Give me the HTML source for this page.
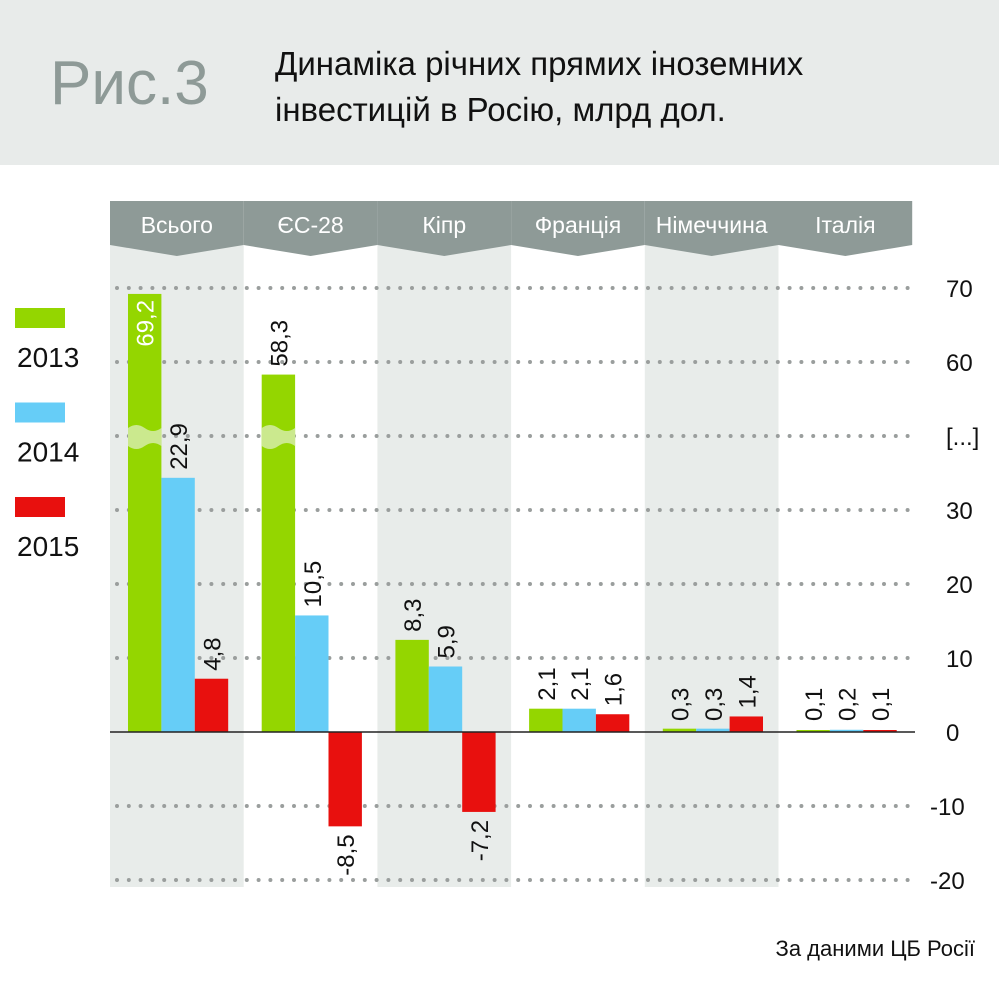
<!DOCTYPE html>
<html><head><meta charset="utf-8"><style>
html,body{margin:0;padding:0;background:#fff;}
svg{display:block;font-family:"Liberation Sans",sans-serif;}
</style></head><body>
<svg id="chart" width="999" height="999" viewBox="0 0 999 999">
<rect x="0" y="0" width="999" height="165" fill="#e8ebea"/>
<text x="50" y="104" font-size="62" fill="#8e9a97">Рис.3</text>
<text x="275" y="75" font-size="33" fill="#111">Динаміка річних прямих іноземних</text>
<text x="275" y="121" font-size="33" fill="#111">інвестицій в Росію, млрд дол.</text>
<g id="cols"></g>
<g id="grid"></g>
<g id="bars"></g>
<g id="legend"></g>
<text x="975" y="956" font-size="22" text-anchor="end" fill="#111">За даними ЦБ Росії</text>
</svg>
<script>
const categories = ["Всього","ЄС-28","Кіпр","Франція","Німеччина","Італія"];
const values2013 = [69.2, 58.3, 8.3, 2.1, 0.3, 0.1];
const values2014 = [22.9, 10.5, 5.9, 2.1, 0.3, 0.2];
const values2015 = [4.8, -8.5, -7.2, 1.6, 1.4, 0.1];
const labels2013 = ["69,2","58,3","8,3","2,1","0,3","0,1"];
const labels2014 = ["22,9","10,5","5,9","2,1","0,3","0,2"];
const labels2015 = ["4,8","-8,5","-7,2","1,6","1,4","0,1"];
const tickLabels = ["70","60","[...]","30","20","10","0","-10","-20"];
const tickPos = [70,60,40,30,20,10,0,-10,-20];
const years = ["2013","2014","2015"];

const NS="http://www.w3.org/2000/svg";
const Y0=732, TICK=7.4, BAR=11.1;
function yTick(v){ if(v>45) return 288 + (70-v)*TICK; return Y0 - v*TICK; }
function yBar(v){ if(v>40) return 288 + (70-v)*TICK; return Y0 - v*BAR; }
function colX(i){return 110 + i*133.7;}
function mk(tag,attrs,parent){const e=document.createElementNS(NS,tag);for(const k in attrs)e.setAttribute(k,attrs[k]);parent.appendChild(e);return e;}
const cols=document.getElementById('cols'),grid=document.getElementById('grid'),bars=document.getElementById('bars'),legend=document.getElementById('legend');
const colors=["#94d600","#66cdf7","#e8100e"];

categories.forEach((c,i)=>{
  const x=colX(i), w=133.7;
  if(i%2===0){const r=mk('rect',{x:x,y:245,width:w,height:642,fill:'#e8ecea'},cols);
    
    }
  const p=mk('polygon',{points:`${x},201 ${x+w},201 ${x+w},245 ${x+w/2},256 ${x},245`,fill:'#8e9a97'},cols);
  
  
  const t=mk('text',{x:x+w/2,y:233,'font-size':23,fill:'#fff','text-anchor':'middle'},cols);
  t.textContent=c;
  
  
});

tickLabels.forEach((lab,i)=>{
  const y=yTick(tickPos[i]);
  if(tickPos[i]!==0){
    const l=mk('line',{x1:117,y1:y,x2:918,y2:y,stroke:'#9a9e9d','stroke-width':4,'stroke-linecap':'round','stroke-dasharray':'0 11.8'},grid);
    
    
  }
  const neg=lab.startsWith('-');
  const t=mk('text',{x:neg?930:946,y:y+9,'font-size':24,fill:'#111'},grid);
  t.textContent=lab;
  
  
});

const series=[values2013,values2014,values2015], slabels=[labels2013,labels2014,labels2015];
categories.forEach((c,i)=>{
  series.forEach((vals,s)=>{
    const v=vals[i], bx=colX(i)+18+s*33.4, w=33.4;
    const yt=yBar(v), top=Math.min(yt,Y0), h=Math.max(Math.abs(Y0-yt),2);
    const r=mk('rect',{x:bx,y:v>=0?Y0-h:Y0,width:w,height:h,fill:colors[s]},bars);
    
    
    if(v>40){
      const wv=mk('path',{d:`M${bx},428 q${w/4},-6 ${w/2},0 t${w/2},0 L${bx+w},446 q${-w/4},-6 ${-w/2},0 t${-w/2},0 Z`,fill:'#cbe98e'},bars);
      
      
    }
    const cx=bx+w/2+9;
    let t;
    if(v>=60){
      t=mk('text',{x:0,y:0,'font-size':24,fill:'#fff','text-anchor':'end',transform:`translate(${cx},${top+6}) rotate(-90)`},bars);
    } else if(v>=0){
      t=mk('text',{x:0,y:0,'font-size':24,fill:'#111','text-anchor':'start',transform:`translate(${cx},${(v>0.5?top:Y0-3)-8}) rotate(-90)`},bars);
    } else {
      t=mk('text',{x:0,y:0,'font-size':24,fill:'#111','text-anchor':'end',transform:`translate(${cx},${yt+8}) rotate(-90)`},bars);
    }
    t.textContent=slabels[s][i];
    
    
  });
});
const zl=mk('line',{x1:110,y1:Y0,x2:915,y2:Y0,stroke:'#222','stroke-width':1.5},bars);



years.forEach((yr,s)=>{
  const y=308+s*94.5;
  const r=mk('rect',{x:15,y:y,width:50,height:20,fill:colors[s]},legend);
  
  
  const t=mk('text',{x:17,y:y+59,'font-size':28,fill:'#111'},legend);
  t.textContent=yr;
  
  
});
</script>
</body></html>
